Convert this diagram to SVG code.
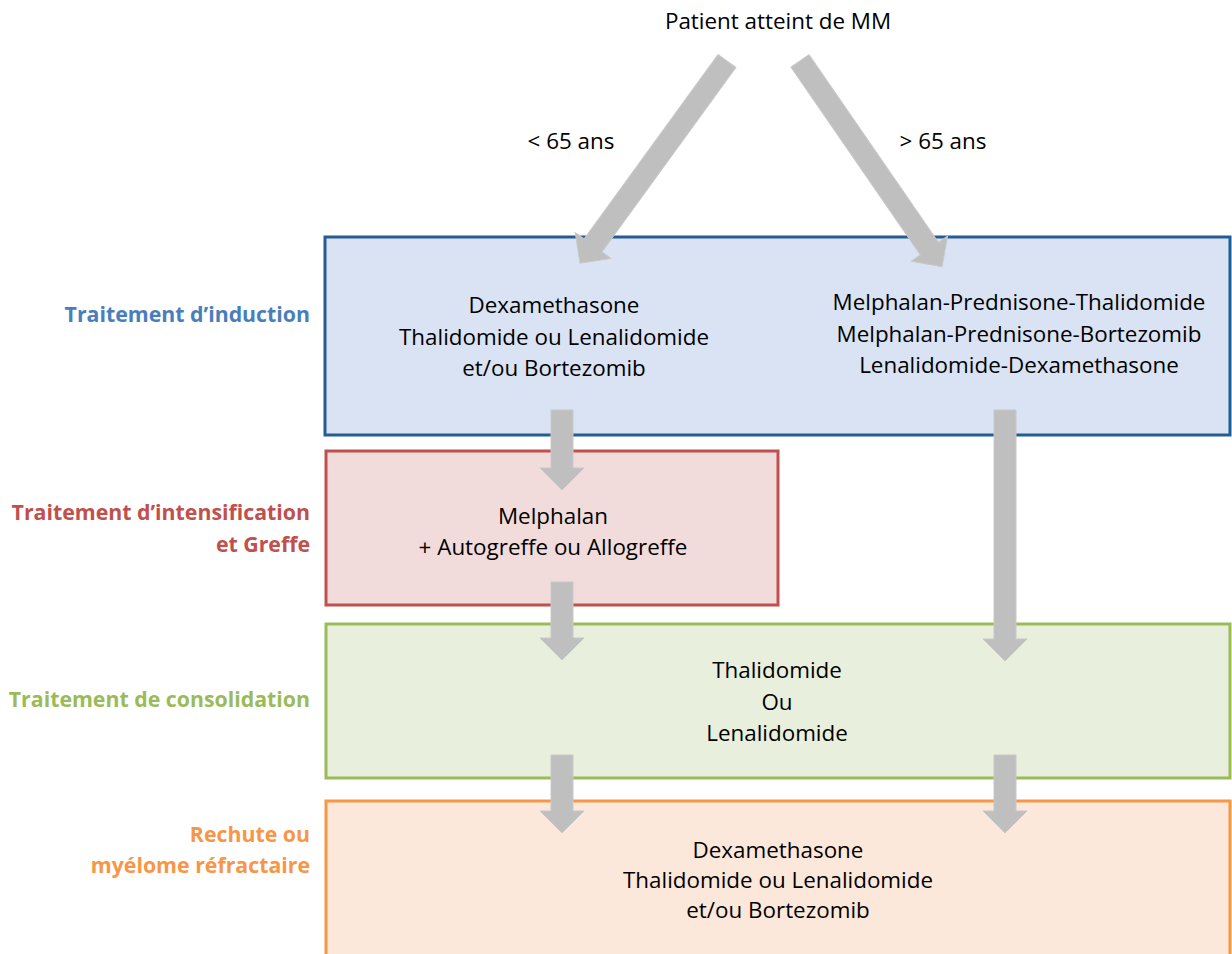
<svg xmlns="http://www.w3.org/2000/svg" width="1232" height="954" viewBox="0 0 1232 954">
<style>
text{font-family:"Open Sans","Liberation Sans",Arial,sans-serif;font-size:22.4px;fill:#000}
.c{text-anchor:middle}
.lab{text-anchor:end;font-weight:bold;font-size:21.3px}
.arr{fill:#BFBFBF;stroke:#C8C8C8;stroke-width:1}
</style>
<rect width="1232" height="954" fill="#fff"/>
<g id="top"><text class="c" x="778" y="29">Patient atteint de MM</text></g>
<g id="induction">
<rect x="325" y="237" width="905" height="198" fill="#DAE3F3" stroke="#245D92" stroke-width="3"/>
<text class="c" x="554" y="313">Dexamethasone</text>
<text class="c" x="554" y="345">Thalidomide ou Lenalidomide</text>
<text class="c" x="554" y="376">et/ou Bortezomib</text>
<text class="c" x="1019" y="310">Melphalan-Prednisone-Thalidomide</text>
<text class="c" x="1019" y="342">Melphalan-Prednisone-Bortezomib</text>
<text class="c" x="1019" y="373">Lenalidomide-Dexamethasone</text>
</g>
<g id="intensification">
<rect x="326" y="451" width="452" height="154" fill="#F2DCDB" stroke="#C0504D" stroke-width="3"/>
<text class="c" x="553" y="524">Melphalan</text>
<text class="c" x="553" y="555">+ Autogreffe ou Allogreffe</text>
</g>
<g id="consolidation">
<rect x="326" y="624" width="904" height="154" fill="#E8EFDC" stroke="#9BBB59" stroke-width="3"/>
<text class="c" x="777" y="678">Thalidomide</text>
<text class="c" x="777" y="710">Ou</text>
<text class="c" x="777" y="741">Lenalidomide</text>
</g>
<g id="rechute">
<rect x="326" y="801" width="904" height="160" fill="#FCE8DA" stroke="#F79646" stroke-width="3"/>
<text class="c" x="778" y="858">Dexamethasone</text>
<text class="c" x="778" y="888">Thalidomide ou Lenalidomide</text>
<text class="c" x="778" y="918">et/ou Bortezomib</text>
</g>
<g id="labels">
<text class="lab" x="310" y="322" style="fill:#4A7EBB">Traitement d’induction</text>
<text class="lab" x="310" y="520" style="fill:#C0504D">Traitement d’intensification</text>
<text class="lab" x="310" y="552" style="fill:#C0504D">et Greffe</text>
<text class="lab" x="310" y="707" style="fill:#9BBB59">Traitement de consolidation</text>
<text class="lab" x="310" y="842" style="fill:#F79646">Rechute ou</text>
<text class="lab" x="310" y="873" style="fill:#F79646">myélome réfractaire</text>
</g>
<g id="connectors">
<path class="arr" transform="translate(727,61) rotate(36)" d="M-11,0 H11 V228 H22 L0,250 L-22,228 H-11 Z"/>
<path class="arr" transform="translate(800,61) rotate(-34.6)" d="M-11,0 H11 V228 H22 L0,250 L-22,228 H-11 Z"/>
<text class="c" x="571" y="149">&lt; 65 ans</text>
<text class="c" x="943" y="149">&gt; 65 ans</text>
<path class="arr" d="M551,410 H573 V468 H584 L562,490 L540,468 H551 Z"/>
<path class="arr" d="M551,582 H573 V638 H584 L562,660 L540,638 H551 Z"/>
<path class="arr" d="M551,755 H573 V811 H584 L562,833 L540,811 H551 Z"/>
<path class="arr" d="M994,410 H1016 V639 H1027 L1005,661 L983,639 H994 Z"/>
<path class="arr" d="M994,755 H1016 V811 H1027 L1005,833 L983,811 H994 Z"/>
</g>
</svg>
